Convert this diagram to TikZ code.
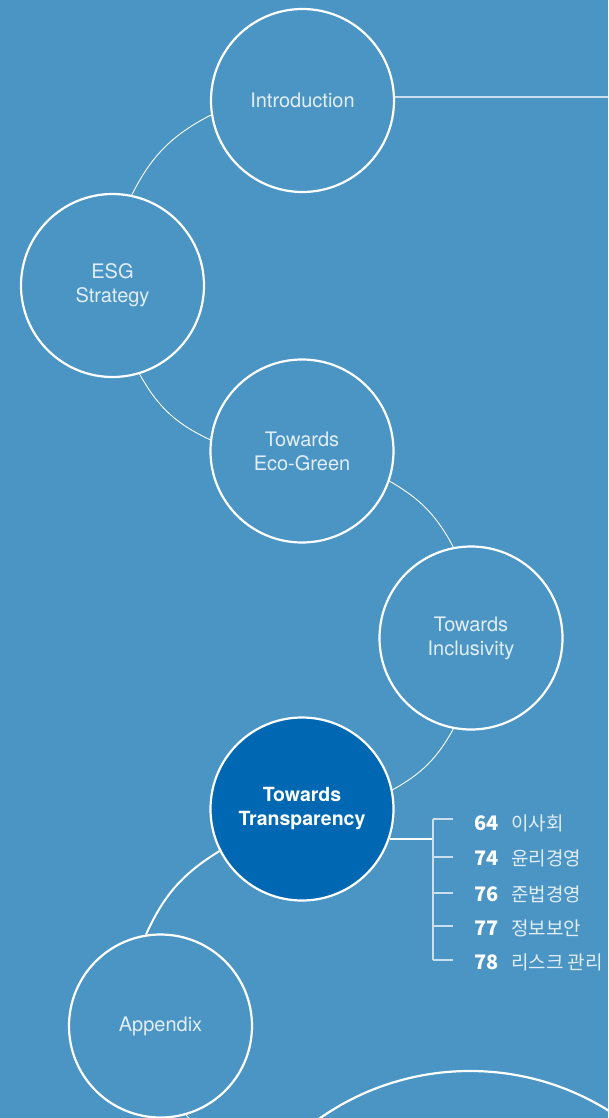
\documentclass[tikz,border=0pt]{standalone}
\usepackage{fontspec}
\setmainfont{TeX Gyre Heros}
\newfontfamily\kr{Noto Sans CJK KR}
\definecolor{bg}{HTML}{4B95C5}
\definecolor{dark}{HTML}{0068B2}
\definecolor{softw}{HTML}{E2EEF7}
\definecolor{faintw}{HTML}{C9DFEE}
\begin{document}
\begin{tikzpicture}[x=1pt,y=-1pt,
  hub/.style={circle, draw=white, line width=2.2pt, minimum size=183pt, inner sep=0pt,
    text=softw, align=center, font=\fontsize{20}{24}\selectfont},
  hubhot/.style={hub, fill=dark, text=white, font=\fontsize{19.5}{24}\selectfont\bfseries},
  link/.style={draw=white, line width=0.9pt},
  thicklink/.style={draw=white, line width=2pt},
  faint/.style={draw=faintw, line width=1.2pt},
  num/.style={inner sep=0pt, anchor=base west, text=white, font=\kr\bfseries\fontsize{20}{24}\selectfont},
  kor/.style={inner sep=0pt, anchor=base west, text=softw, font=\kr\fontsize{19}{24}\selectfont}]
\clip (0,0) rectangle (608,1118);
\fill[bg] (0,0) rectangle (608,1118);

% circles
\node[hub] (intro) at (302.5,100.5) {Introduction};
\node[hub] (esg) at (112.5,285.5) {ESG\\Strategy};
\node[hub] (eco) at (302,451) {Towards\\Eco-Green};
\node[hub] (incl) at (471,638) {Towards\\Inclusivity};
\node[hubhot] (trans) at (302,809) {Towards\\Transparency};
\node[hub] (app) at (160.5,1026) {Appendix};
\node[circle, draw=white, line width=2.2pt, minimum size=524pt, inner sep=0pt] (big) at (470,1333) {};

% connectors between circles
\draw[link] (intro.189) to[bend right=18] (esg.78.5);
\draw[link] (esg.-73.8) to[bend right=18] (eco.173);
\draw[link] (eco.-19.6) to[bend left=16] (incl.101);
\draw[link] (incl.259) to[bend left=16] (trans.12);
\draw[thicklink] (trans.207) to[bend right=17] (app.99.7);
\coordinate (appout) at (205,1130);
\draw[link] (app.-74) to[bend right=10] (appout);

% intro line
\coordinate (introend) at (608,97);
\draw[faint] (introend -| intro.east) -- (introend);

% bracket
\coordinate (bx) at (433,840);
\draw[white, line width=1.8pt] (trans.-19.7) -- (trans.-19.7 -| bx);
\coordinate (t1) at (433,819);
\coordinate (t2) at (433,857);
\coordinate (t3) at (433,893);
\coordinate (t4) at (433,926);
\coordinate (t5) at (433,960);
\coordinate (e1) at (453,819);
\coordinate (e2) at (453,857);
\coordinate (e3) at (453,893);
\coordinate (e4) at (453,926);
\coordinate (e5) at (453,960);
\draw[faint] (t1) -- (t5);
\draw[faint] (t1) -- (e1);
\draw[faint] (t2) -- (e2);
\draw[faint] (t3) -- (e3);
\draw[faint] (t4) -- (e4);
\draw[faint] (t5) -- (e5);

% labels
\node[num] (n1) at (474,830) {64};
\node[kor] (k1) at (511,830) {이사회};
\node[num] (n2) at (474,865) {74};
\node[kor] (k2) at (511,865) {윤리경영};
\node[num] (n3) at (474,901) {76};
\node[kor] (k3) at (511,901) {준법경영};
\node[num] (n4) at (474,935) {77};
\node[kor] (k4) at (511,935) {정보보안};
\node[num] (n5) at (474,969) {78};
\node[kor] (k5) at (511,969) {리스크 관리};
\end{tikzpicture}
\end{document}
